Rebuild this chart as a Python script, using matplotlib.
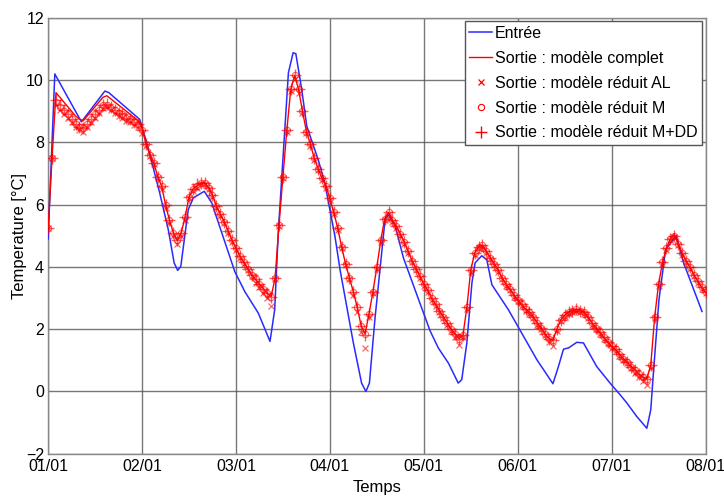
import matplotlib
matplotlib.use("Agg")
import matplotlib.pyplot as plt

plt.rcParams['font.family'] = ['Liberation Sans', 'DejaVu Sans']

# --- data (time in hours from 01/01 00:00) ---
tick_labels = ["01/01", "02/01", "03/01", "04/01", "05/01", "06/01", "07/01", "08/01"]
tick_hours = [0, 24, 48, 72, 96, 120, 144, 168]

entree_t = [0, 1.7, 8.5, 14.5, 15.5, 23.4, 25.5, 28.5, 30.7, 32.2, 33.1, 33.9, 35.8, 37.1,
            39.9, 41.8, 47.7, 50.3, 53.7, 56.7, 57.9, 58.8, 61.4, 62.6, 63.3, 64.8, 66.1,
            69.0, 70.7, 73.3, 74.6, 78.0, 80.1, 81.2, 82.1, 83.5, 86.1, 86.9, 88.6, 90.8,
            95.0, 97.6, 99.7, 102.3, 104.8, 105.7, 107.0, 108.3, 109.1, 110.8, 112.1, 113.4,
            117.6, 121.5, 124.9, 129.0, 130.4, 131.7, 133.0, 135.1, 136.8, 140.2, 143.6,
            146.2, 147.9, 150.4, 153.0, 154.0, 154.8, 156.1, 157.8, 160.5, 162.4, 167.1]
entree_v = [4.9, 10.2, 8.66, 9.65, 9.6, 8.74, 7.85, 6.38, 5.2, 4.13, 3.89, 4.02, 5.84, 6.22,
            6.43, 6.06, 3.85, 3.2, 2.52, 1.61, 2.63, 5.09, 10.24, 10.88, 10.85, 9.7, 8.52,
            7.45, 6.7, 4.98, 3.91, 1.56, 0.27, 0.0, 0.27, 2.31, 5.52, 5.68, 5.36, 4.29,
            2.84, 1.95, 1.4, 0.91, 0.27, 0.38, 1.56, 3.49, 4.13, 4.36, 4.23, 3.43,
            2.63, 1.77, 1.02, 0.25, 0.8, 1.36, 1.4, 1.58, 1.56, 0.8, 0.27,
            -0.11, -0.37, -0.8, -1.18, -0.59, 0.8, 2.95, 4.56, 5.0, 4.13, 2.57]

sortie_complet = [5.25, 7.5, 9.6, 9.45, 9.3, 9.15, 9.0, 8.85, 8.75, 8.7, 8.85, 9.0, 9.15, 9.3,
                  9.45, 9.5, 9.4, 9.3, 9.2, 9.1, 9.0, 8.9, 8.8, 8.7, 8.45, 7.95, 7.6, 7.35,
                  6.9, 6.6, 6.0, 5.5, 5.1, 4.85, 5.1, 5.6, 6.25, 6.5, 6.6, 6.7, 6.7, 6.55,
                  6.3, 5.95, 5.7, 5.45, 5.15, 4.85, 4.6, 4.35, 4.15, 3.95, 3.75, 3.6, 3.45,
                  3.3, 3.15, 3.05, 3.65, 5.35, 6.9, 8.4, 9.7, 10.15, 9.7, 9.0, 8.35, 7.95,
                  7.5, 7.15, 6.85, 6.6, 6.2, 5.75, 5.25, 4.65, 4.1, 3.65, 3.2, 2.7, 2.1,
                  1.85, 2.5, 3.2, 4.0, 4.85, 5.55, 5.75, 5.5, 5.3, 5.05, 4.8, 4.5, 4.2,
                  3.95, 3.7, 3.45, 3.25, 3.0, 2.8, 2.6, 2.4, 2.2, 2.0, 1.85, 1.7, 1.8,
                  2.7, 3.9, 4.45, 4.65, 4.7, 4.5, 4.3, 4.1, 3.9, 3.65, 3.45, 3.3, 3.1,
                  2.95, 2.8, 2.65, 2.55, 2.4, 2.2, 2.05, 1.85, 1.7, 1.65, 2.0, 2.3, 2.45,
                  2.55, 2.6, 2.65, 2.6, 2.55, 2.4, 2.2, 2.05, 1.9, 1.75, 1.6, 1.45, 1.35,
                  1.2, 1.05, 0.95, 0.8, 0.7, 0.55, 0.45, 0.4, 0.85, 2.4, 3.45, 4.15, 4.6,
                  4.9, 5.05, 4.75, 4.45, 4.2, 4.0, 3.75, 3.55, 3.35, 3.2]

sortie_m = [5.25, 7.5, 9.3, 9.15, 9.0, 8.9, 8.75, 8.6, 8.5, 8.45, 8.6, 8.75, 8.9, 9.05,
            9.2, 9.2, 9.1, 9.05, 8.95, 8.9, 8.8, 8.75, 8.65, 8.6, 8.4, 7.95, 7.6, 7.35,
            6.9, 6.6, 6.0, 5.5, 5.1, 4.85, 5.1, 5.6, 6.25, 6.5, 6.6, 6.7, 6.7, 6.55,
            6.3, 5.95, 5.7, 5.45, 5.15, 4.85, 4.6, 4.35, 4.15, 3.95, 3.75, 3.6, 3.45,
            3.3, 3.15, 3.05, 3.65, 5.35, 6.9, 8.4, 9.7, 10.15, 9.7, 9.0, 8.35, 7.95,
            7.5, 7.15, 6.85, 6.6, 6.2, 5.75, 5.25, 4.65, 4.1, 3.65, 3.2, 2.7, 2.1,
            1.85, 2.5, 3.2, 4.0, 4.85, 5.55, 5.75, 5.5, 5.3, 5.05, 4.8, 4.5, 4.2,
            3.95, 3.7, 3.45, 3.25, 3.0, 2.8, 2.6, 2.4, 2.2, 2.0, 1.85, 1.7, 1.8,
            2.7, 3.9, 4.45, 4.65, 4.7, 4.5, 4.3, 4.1, 3.9, 3.65, 3.45, 3.3, 3.1,
            2.95, 2.8, 2.65, 2.55, 2.4, 2.2, 2.05, 1.85, 1.7, 1.65, 2.0, 2.3, 2.45,
            2.55, 2.6, 2.65, 2.6, 2.55, 2.4, 2.2, 2.05, 1.9, 1.75, 1.6, 1.45, 1.35,
            1.2, 1.05, 0.95, 0.8, 0.7, 0.55, 0.45, 0.4, 0.85, 2.4, 3.45, 4.15, 4.6,
            4.9, 5.0, 4.75, 4.45, 4.2, 4.0, 3.75, 3.55, 3.35, 3.2]

sortie_mdd = [5.25, 7.5, 9.35, 9.2, 9.05, 8.9, 8.75, 8.6, 8.5, 8.45, 8.6, 8.75, 8.9, 9.05,
              9.2, 9.25, 9.15, 9.05, 8.95, 8.9, 8.8, 8.75, 8.65, 8.6, 8.4, 7.95, 7.6, 7.35,
              6.9, 6.6, 6.0, 5.5, 5.1, 4.85, 5.1, 5.6, 6.25, 6.5, 6.65, 6.7, 6.7, 6.55,
              6.3, 5.95, 5.7, 5.45, 5.15, 4.85, 4.6, 4.35, 4.15, 3.95, 3.75, 3.6, 3.45,
              3.3, 3.15, 3.05, 3.65, 5.35, 6.9, 8.4, 9.7, 10.15, 9.7, 9.0, 8.35, 7.95,
              7.5, 7.15, 6.85, 6.6, 6.2, 5.75, 5.25, 4.65, 4.1, 3.65, 3.2, 2.7, 2.1,
              1.8, 2.5, 3.2, 4.0, 4.85, 5.55, 5.75, 5.5, 5.3, 5.05, 4.8, 4.5, 4.2,
              3.95, 3.7, 3.45, 3.25, 3.0, 2.8, 2.6, 2.4, 2.2, 2.0, 1.85, 1.7, 1.8,
              2.7, 3.9, 4.45, 4.65, 4.7, 4.5, 4.3, 4.1, 3.9, 3.65, 3.45, 3.3, 3.1,
              2.95, 2.8, 2.65, 2.55, 2.4, 2.2, 2.05, 1.85, 1.7, 1.65, 2.0, 2.3, 2.45,
              2.55, 2.6, 2.65, 2.6, 2.55, 2.4, 2.2, 2.05, 1.9, 1.75, 1.6, 1.45, 1.35,
              1.2, 1.05, 0.95, 0.8, 0.7, 0.55, 0.45, 0.4, 0.85, 2.4, 3.45, 4.15, 4.6,
              4.9, 5.0, 4.75, 4.45, 4.2, 4.0, 3.75, 3.55, 3.35, 3.2]

sortie_al = [5.25, 7.5, 9.2, 9.05, 8.9, 8.8, 8.65, 8.5, 8.4, 8.35, 8.5, 8.65, 8.8, 8.95,
             9.1, 9.15, 9.05, 8.95, 8.85, 8.8, 8.7, 8.65, 8.55, 8.5, 8.3, 7.9, 7.55, 7.3,
             6.85, 6.5, 5.9, 5.4, 5.0, 4.75, 5.0, 5.5, 6.2, 6.45, 6.55, 6.65, 6.65, 6.5,
             6.25, 5.9, 5.65, 5.4, 5.1, 4.8, 4.55, 4.3, 4.1, 3.9, 3.7, 3.5, 3.35,
             3.15, 3.0, 2.75, 3.6, 5.3, 6.85, 8.35, 9.65, 10.05, 9.6, 8.95, 8.3, 7.9,
             7.45, 7.1, 6.8, 6.55, 6.15, 5.7, 5.2, 4.6, 4.05, 3.6, 3.1, 2.55, 1.9,
             1.4, 2.4, 3.15, 3.95, 4.8, 5.5, 5.7, 5.45, 5.25, 5.0, 4.75, 4.45, 4.15,
             3.9, 3.65, 3.4, 3.2, 2.95, 2.75, 2.55, 2.35, 2.15, 1.95, 1.75, 1.5, 1.75,
             2.65, 3.85, 4.4, 4.6, 4.65, 4.45, 4.25, 4.05, 3.85, 3.6, 3.4, 3.25, 3.05,
             2.9, 2.75, 2.6, 2.5, 2.35, 2.15, 2.0, 1.8, 1.6, 1.45, 1.95, 2.25, 2.4,
             2.5, 2.55, 2.6, 2.55, 2.5, 2.35, 2.15, 2.0, 1.85, 1.7, 1.55, 1.4, 1.3,
             1.15, 1.0, 0.9, 0.75, 0.6, 0.45, 0.35, 0.2, 0.75, 2.35, 3.4, 4.1, 4.55,
             4.85, 4.95, 4.7, 4.4, 4.15, 3.95, 3.7, 3.5, 3.3, 3.15]

hours = list(range(len(sortie_complet)))

fig = plt.figure(figsize=(7.24, 4.97), dpi=100)
ax = fig.add_axes([0.0665, 0.087, 0.908, 0.877])

ax.plot(entree_t, entree_v, color='#2a2aff', lw=1.1, label='Entrée', zorder=3)
ax.plot(hours, sortie_complet, color='red', lw=1.0, label='Sortie : modèle complet', zorder=4)
ax.plot(hours, sortie_al, ls='none', marker='x', ms=4.5, mew=0.9, color='red', alpha=0.6,
        label='Sortie : modèle réduit AL', zorder=5)
ax.plot(hours, sortie_m, ls='none', marker='o', ms=4.5, mew=0.8, mfc='none', color='red',
        alpha=0.6, label='Sortie : modèle réduit M', zorder=5)
ax.plot(hours, sortie_mdd, ls='none', marker='+', ms=8.5, mew=1.0, color='red', alpha=0.65,
        label='Sortie : modèle réduit M+DD', zorder=5)

ax.set_xlim(0, 168)
ax.set_ylim(-2, 12)
ax.set_xticks(tick_hours)
ax.set_xticklabels(tick_labels)
ax.set_yticks(range(-2, 13, 2))
ax.tick_params(axis='both', labelsize=11.5, length=0, pad=3)
ax.tick_params(axis='x', pad=4)
ax.grid(True, color='#555555', lw=1.0, alpha=0.8)
ax.set_axisbelow(True)
for s in ax.spines.values():
    s.set_color('#888888')
    s.set_linewidth(1.0)

ax.set_xlabel('Temps', fontsize=12, labelpad=4)
ax.set_ylabel('Temperature [°C]', fontsize=12, labelpad=-1)

leg = ax.legend(loc='upper right', fontsize=11.5, handlelength=1.4, handletextpad=0.2,
                borderpad=0.3, labelspacing=0.62, framealpha=1, fancybox=False,
                borderaxespad=0.2)
leg.get_frame().set_edgecolor('#555555')
leg.get_frame().set_linewidth(1.0)
for lh in leg.legend_handles:
    lh.set_alpha(1)

fig.savefig('out.png', dpi=100)
